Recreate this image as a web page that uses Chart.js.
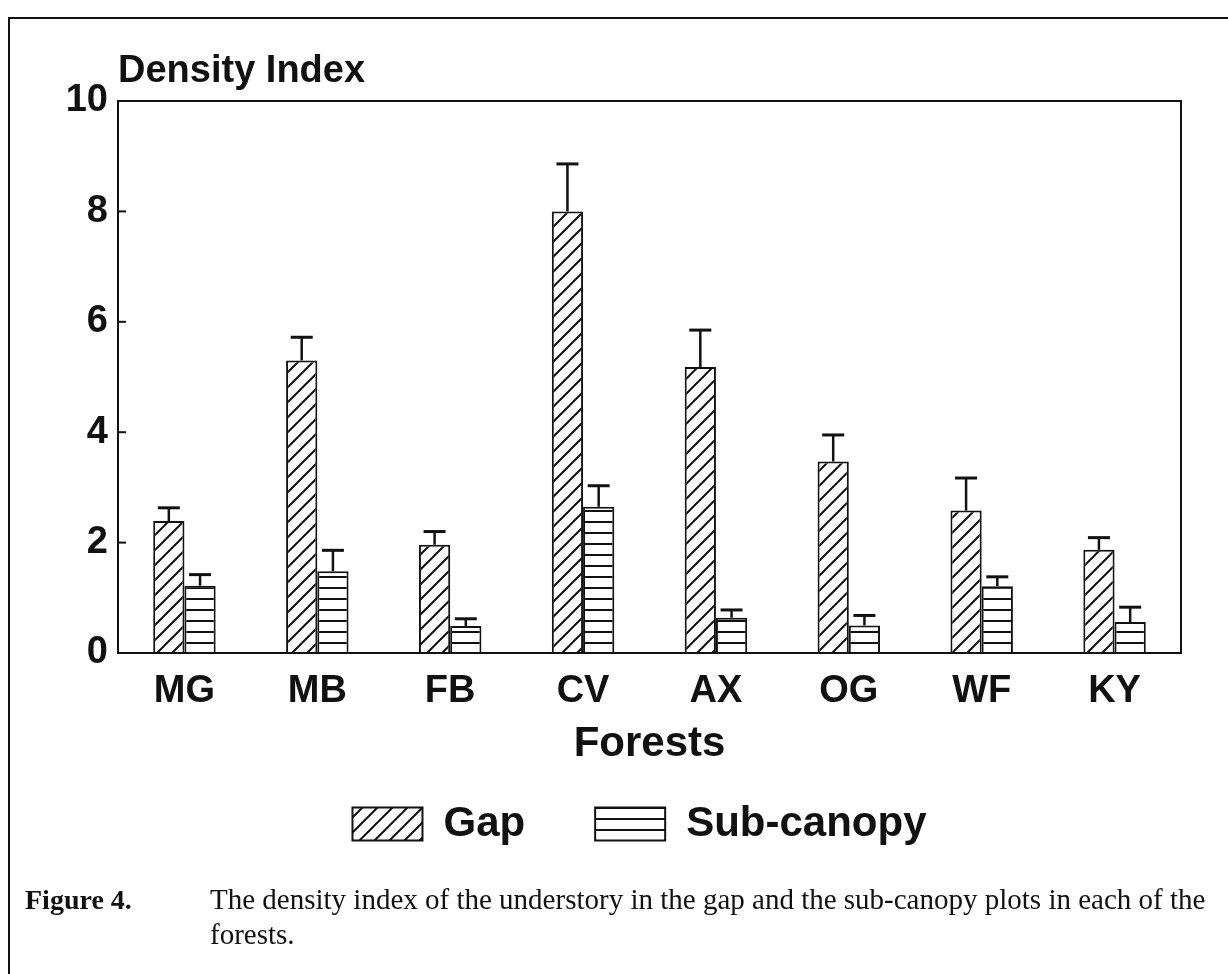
<!DOCTYPE html>
<html>
<head>
<meta charset="utf-8">
<script src="https://cdn.jsdelivr.net/npm/chart.js@4.4.1/dist/chart.umd.min.js"></script>
<style>
  body { margin: 0; background: #fff; }
  #wrap { position: relative; width: 1228px; height: 974px; overflow: hidden; }
  #frame { position: absolute; left: 8px; top: 17px; right: -10px; bottom: -10px;
           border-left: 2px solid #111; border-top: 2px solid #111; }
  #cv { position: absolute; left: 0; top: 0; }
  .cap { position: absolute; font-family: "Liberation Serif", "Times New Roman", serif; font-size: 29px; color: #111; line-height: 35px; }
  #fig { left: 25px; top: 882px; font-weight: bold; font-size: 28px; }
  #txt { left: 210px; top: 882px; width: 1015px; }
</style>
</head>
<body>
<div id="wrap">
  <div id="frame"></div>
  <canvas id="cv" width="1228" height="906"></canvas>
  <div class="cap" id="fig">Figure 4.</div>
  <div class="cap" id="txt">The density index of the understory in the gap and the sub-canopy plots in each of the<br>forests.</div>
</div>
<script>
const forests = ['MG', 'MB', 'FB', 'CV', 'AX', 'OG', 'WF', 'KY'];
const gap = [2.39, 5.30, 1.96, 8.00, 5.18, 3.47, 2.58, 1.87];
const gapErr = [2.63, 5.72, 2.20, 8.86, 5.85, 3.95, 3.17, 2.09];
const sub = [1.22, 1.48, 0.49, 2.65, 0.64, 0.50, 1.21, 0.56];
const subErr = [1.42, 1.86, 0.62, 3.03, 0.78, 0.68, 1.38, 0.83];
const yTicks = [0, 2, 4, 6, 8, 10];

function hatchDiag() {
  const c = document.createElement('canvas');
  c.width = 15; c.height = 15;
  const g = c.getContext('2d');
  g.fillStyle = '#fff'; g.fillRect(0, 0, 15, 15);
  g.strokeStyle = '#111'; g.lineWidth = 2;
  g.beginPath();
  g.moveTo(-2, 17); g.lineTo(17, -2);
  g.moveTo(-2, 2); g.lineTo(2, -2);
  g.moveTo(13, 17); g.lineTo(17, 13);
  g.stroke();
  return g.createPattern(c, 'repeat');
}
function hatchHoriz() {
  const c = document.createElement('canvas');
  c.width = 12; c.height = 11;
  const g = c.getContext('2d');
  g.fillStyle = '#fff'; g.fillRect(0, 0, 12, 11);
  g.strokeStyle = '#111'; g.lineWidth = 2;
  g.beginPath(); g.moveTo(0, 5); g.lineTo(12, 5); g.stroke();
  return g.createPattern(c, 'repeat');
}

const FONT = "'Liberation Sans', Arial, Helvetica, sans-serif";

// error bars, inward ticks, plot frame and the y title
const extras = {
  id: 'extras',
  afterLayout(chart) {
    // legend sits centred under the page, not under the chart box
    const lg = chart.legend;
    lg.left += 40; lg.right += 40;
    lg.top -= 41; lg.bottom -= 41;
  },
  afterDatasetsDraw(chart) {
    const { ctx, chartArea: a, scales: { y } } = chart;
    ctx.save();
    ctx.strokeStyle = '#111';
    ctx.lineWidth = 2.5;
    const errs = [gapErr, subErr];
    errs.forEach((arr, di) => {
      chart.getDatasetMeta(di).data.forEach((bar, i) => {
        const yt = y.getPixelForValue(arr[i]);
        ctx.beginPath();
        ctx.moveTo(bar.x, bar.y);
        ctx.lineTo(bar.x, yt);
        ctx.stroke();
        ctx.lineWidth = 3;
        ctx.beginPath();
        ctx.moveTo(bar.x - 11, yt);
        ctx.lineTo(bar.x + 11, yt);
        ctx.stroke();
        ctx.lineWidth = 2.5;
      });
    });
    ctx.lineWidth = 2;
    ctx.strokeRect(a.left, a.top, a.right - a.left, a.bottom - a.top);
    yTicks.forEach(v => {
      const py = y.getPixelForValue(v);
      ctx.beginPath(); ctx.moveTo(a.left, py); ctx.lineTo(a.left + 8, py); ctx.stroke();
    });
    ctx.fillStyle = '#111';
    ctx.font = 'bold 38px ' + FONT;
    ctx.textAlign = 'left';
    ctx.textBaseline = 'alphabetic';
    ctx.fillText('Density Index', a.left, a.top - 19);
    ctx.restore();
  }
};

new Chart(document.getElementById('cv'), {
  type: 'bar',
  data: {
    labels: forests,
    datasets: [
      { label: 'Gap', data: gap, backgroundColor: hatchDiag(), borderColor: '#111', borderWidth: 2 },
      { label: 'Sub-canopy', data: sub, backgroundColor: hatchHoriz(), borderColor: '#111', borderWidth: 2 }
    ]
  },
  options: {
    responsive: false,
    animation: false,
    layout: { padding: { left: 18, right: 47, top: 101, bottom: 10 } },
    datasets: { bar: { categoryPercentage: 0.47, barPercentage: 1.0 } },
    scales: {
      x: {
        grid: { display: false, drawTicks: false },
        border: { display: false },
        ticks: { color: '#111', padding: 16, font: { family: FONT, size: 38, weight: 'bold' } },
        title: { display: true, text: 'Forests', color: '#111', padding: { top: 2 },
                 font: { family: FONT, size: 42, weight: 'bold' } },
        afterFit(s) { s.height = 121; }
      },
      y: {
        min: 0, max: 10,
        afterBuildTicks(s) { s.ticks = yTicks.map(v => ({ value: v })); },
        grid: { display: false, drawTicks: false },
        border: { display: false },
        ticks: { color: '#111', padding: 10, font: { family: FONT, size: 38, weight: 'bold' } },
        afterFit(s) { s.width = 100; }
      }
    },
    plugins: {
      tooltip: { enabled: false },
      legend: {
        position: 'bottom',
        labels: { color: '#111', boxWidth: 70, boxHeight: 33, padding: 70,
                  font: { family: FONT, size: 42, weight: 'bold' } }
      }
    }
  },
  plugins: [extras]
});
</script>
</body>
</html>
